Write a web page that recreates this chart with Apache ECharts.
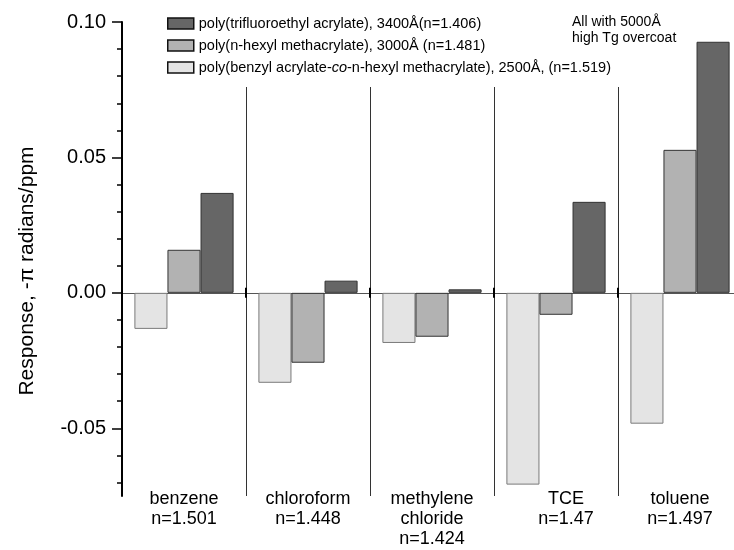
<!DOCTYPE html>
<html><head><meta charset="utf-8">
<script src="https://cdn.jsdelivr.net/npm/echarts@6/dist/echarts.min.js"></script>
<style>html,body{margin:0;padding:0;background:#fff}#c{width:734px;height:550px}</style>
</head><body><div id="c"></div>
<script>
const categories = ['benzene\nn=1.501', 'chloroform\nn=1.448', 'methylene\nchloride\nn=1.424', 'TCE\nn=1.47', 'toluene\nn=1.497'];
const seriesNames = [
  'poly(benzyl acrylate-co-n-hexyl methacrylate), 2500Å, (n=1.519)',
  'poly(n-hexyl methacrylate), 3000Å (n=1.481)',
  'poly(trifluoroethyl acrylate), 3400Å(n=1.406)'
];
const benzylCoHexyl = [-0.0133, -0.0332, -0.0185, -0.0708, -0.0483];
const hexylMethacrylate = [0.0159, -0.0258, -0.0162, -0.0081, 0.0528];
const trifluoroethyl = [0.0369, 0.0045, 0.0013, 0.0336, 0.0927];
const majorTicks = [-0.05, 0, 0.05, 0.10];
const minorTicks = [-0.07, -0.06, -0.04, -0.03, -0.02, -0.01, 0.01, 0.02, 0.03, 0.04, 0.06, 0.07, 0.08, 0.09];
const yAxisName = 'Response, -π radians/ppm';
const annotation = 'All with 5000Å\nhigh Tg overcoat';

const FONT = '"Liberation Sans", Arial, sans-serif';
const fills = ['#e4e4e4', '#b2b2b2', '#666666'];
const borders = ['#7a7a7a', '#333333', '#333333'];
const values = [benzylCoHexyl, hexylMethacrylate, trifluoroethyl];

const chart = echarts.init(document.getElementById('c'), null, {renderer: 'canvas'});
const YMIN = -0.075, YMAX = 0.10;
const gridBottom = 54, gridTop = 22, gridLeft = 122, gridRight = -8;

chart.setOption({
  animation: false,
  backgroundColor: '#fff',
  textStyle: {fontFamily: FONT, color: '#000'},
  title: {
    text: annotation, left: 572, top: 14, padding: 0,
    textStyle: {fontFamily: FONT, fontSize: 14, fontWeight: 'normal', lineHeight: 16, color: '#000'}
  },
  legend: {
    orient: 'vertical', left: 167, top: 16, padding: 0,
    itemWidth: 26, itemHeight: 11, itemGap: 7, icon: 'rect',
    data: [seriesNames[2], seriesNames[1], seriesNames[0]],
    itemStyle: {borderColor: '#111', borderWidth: 1.5},
    formatter: n => n.replace('-co-', '-{i|co}-'),
    textStyle: {fontFamily: FONT, fontSize: 14.5, lineHeight: 14, color: '#000',
      rich: {i: {fontStyle: 'italic', fontFamily: FONT, fontSize: 14.5, color: '#000'}}}
  },
  grid: [
    {left: gridLeft, right: gridRight, top: gridTop, bottom: gridBottom, outerBoundsMode: 'none', containLabel: false},
    {left: gridLeft, right: gridRight, top: 87, bottom: gridBottom, outerBoundsMode: 'none', containLabel: false}
  ],
  xAxis: [
    {type: 'category', gridIndex: 0, data: categories, position: 'bottom',
     axisLine: {show: true, onZero: true, onZeroAxisIndex: 0, lineStyle: {color: '#555', width: 1}},
     axisTick: {show: true, length: 5, lineStyle: {color: '#000', width: 2}},
     axisLabel: {show: false}, splitLine: {show: false}},
    {type: 'category', gridIndex: 0, data: categories, position: 'top',
     axisLine: {show: true, onZero: true, onZeroAxisIndex: 0, lineStyle: {color: '#555', width: 1}},
     axisTick: {show: true, length: 5, lineStyle: {color: '#000', width: 2}},
     axisLabel: {show: false}, splitLine: {show: false}},
    {type: 'category', gridIndex: 1, data: categories, position: 'bottom',
     axisLine: {show: false, onZero: false}, axisTick: {show: false},
     axisLabel: {show: true, interval: 0, margin: -7, fontFamily: FONT, fontSize: 18, lineHeight: 20, color: '#000',
       formatter: v => v.startsWith('TCE') ? v.split('\n').map(s => '{o|' + s + '}').join('\n') : v,
       rich: {o: {padding: [0, 0, 0, 20], fontFamily: FONT, fontSize: 18, lineHeight: 20, color: '#000'}}},
     splitLine: {show: true, interval: 0, lineStyle: {color: '#333', width: 1}}}
  ],
  yAxis: [
    {type: 'value', gridIndex: 0, min: YMIN, max: YMAX, position: 'left',
     name: yAxisName, nameLocation: 'middle', nameGap: 84, nameRotate: 90,
     nameTextStyle: {fontFamily: FONT, fontSize: 21, color: '#000', padding: [0, 24, 0, 0]},
     axisLine: {show: true, onZero: false, lineStyle: {color: '#000', width: 2}},
     axisTick: {show: true, customValues: majorTicks, length: 10, lineStyle: {color: '#000', width: 1.5}},
     axisLabel: {show: true, customValues: majorTicks, margin: 16, fontFamily: FONT, fontSize: 20, color: '#000',
       formatter: v => v.toFixed(2)},
     splitLine: {show: false}},
    {type: 'value', gridIndex: 0, min: YMIN, max: YMAX, position: 'left', offset: 0,
     axisLine: {show: false, onZero: false},
     axisTick: {show: true, customValues: minorTicks, length: 5, lineStyle: {color: '#000', width: 1.5}},
     axisLabel: {show: false}, splitLine: {show: false}},
    {type: 'value', gridIndex: 1, show: false, min: 0, max: 1,
     axisLine: {show: false}, axisTick: {show: false}, axisLabel: {show: false}, splitLine: {show: false}}
  ],
  series: values.map((arr, i) => ({
    name: seriesNames[i], type: 'bar', xAxisIndex: 0, yAxisIndex: 0,
    data: arr, barGap: '0%', barCategoryGap: '20%',
    itemStyle: {color: fills[i], borderColor: borders[i], borderWidth: 1},
    emphasis: {disabled: true}
  }))
});
</script></body></html>
